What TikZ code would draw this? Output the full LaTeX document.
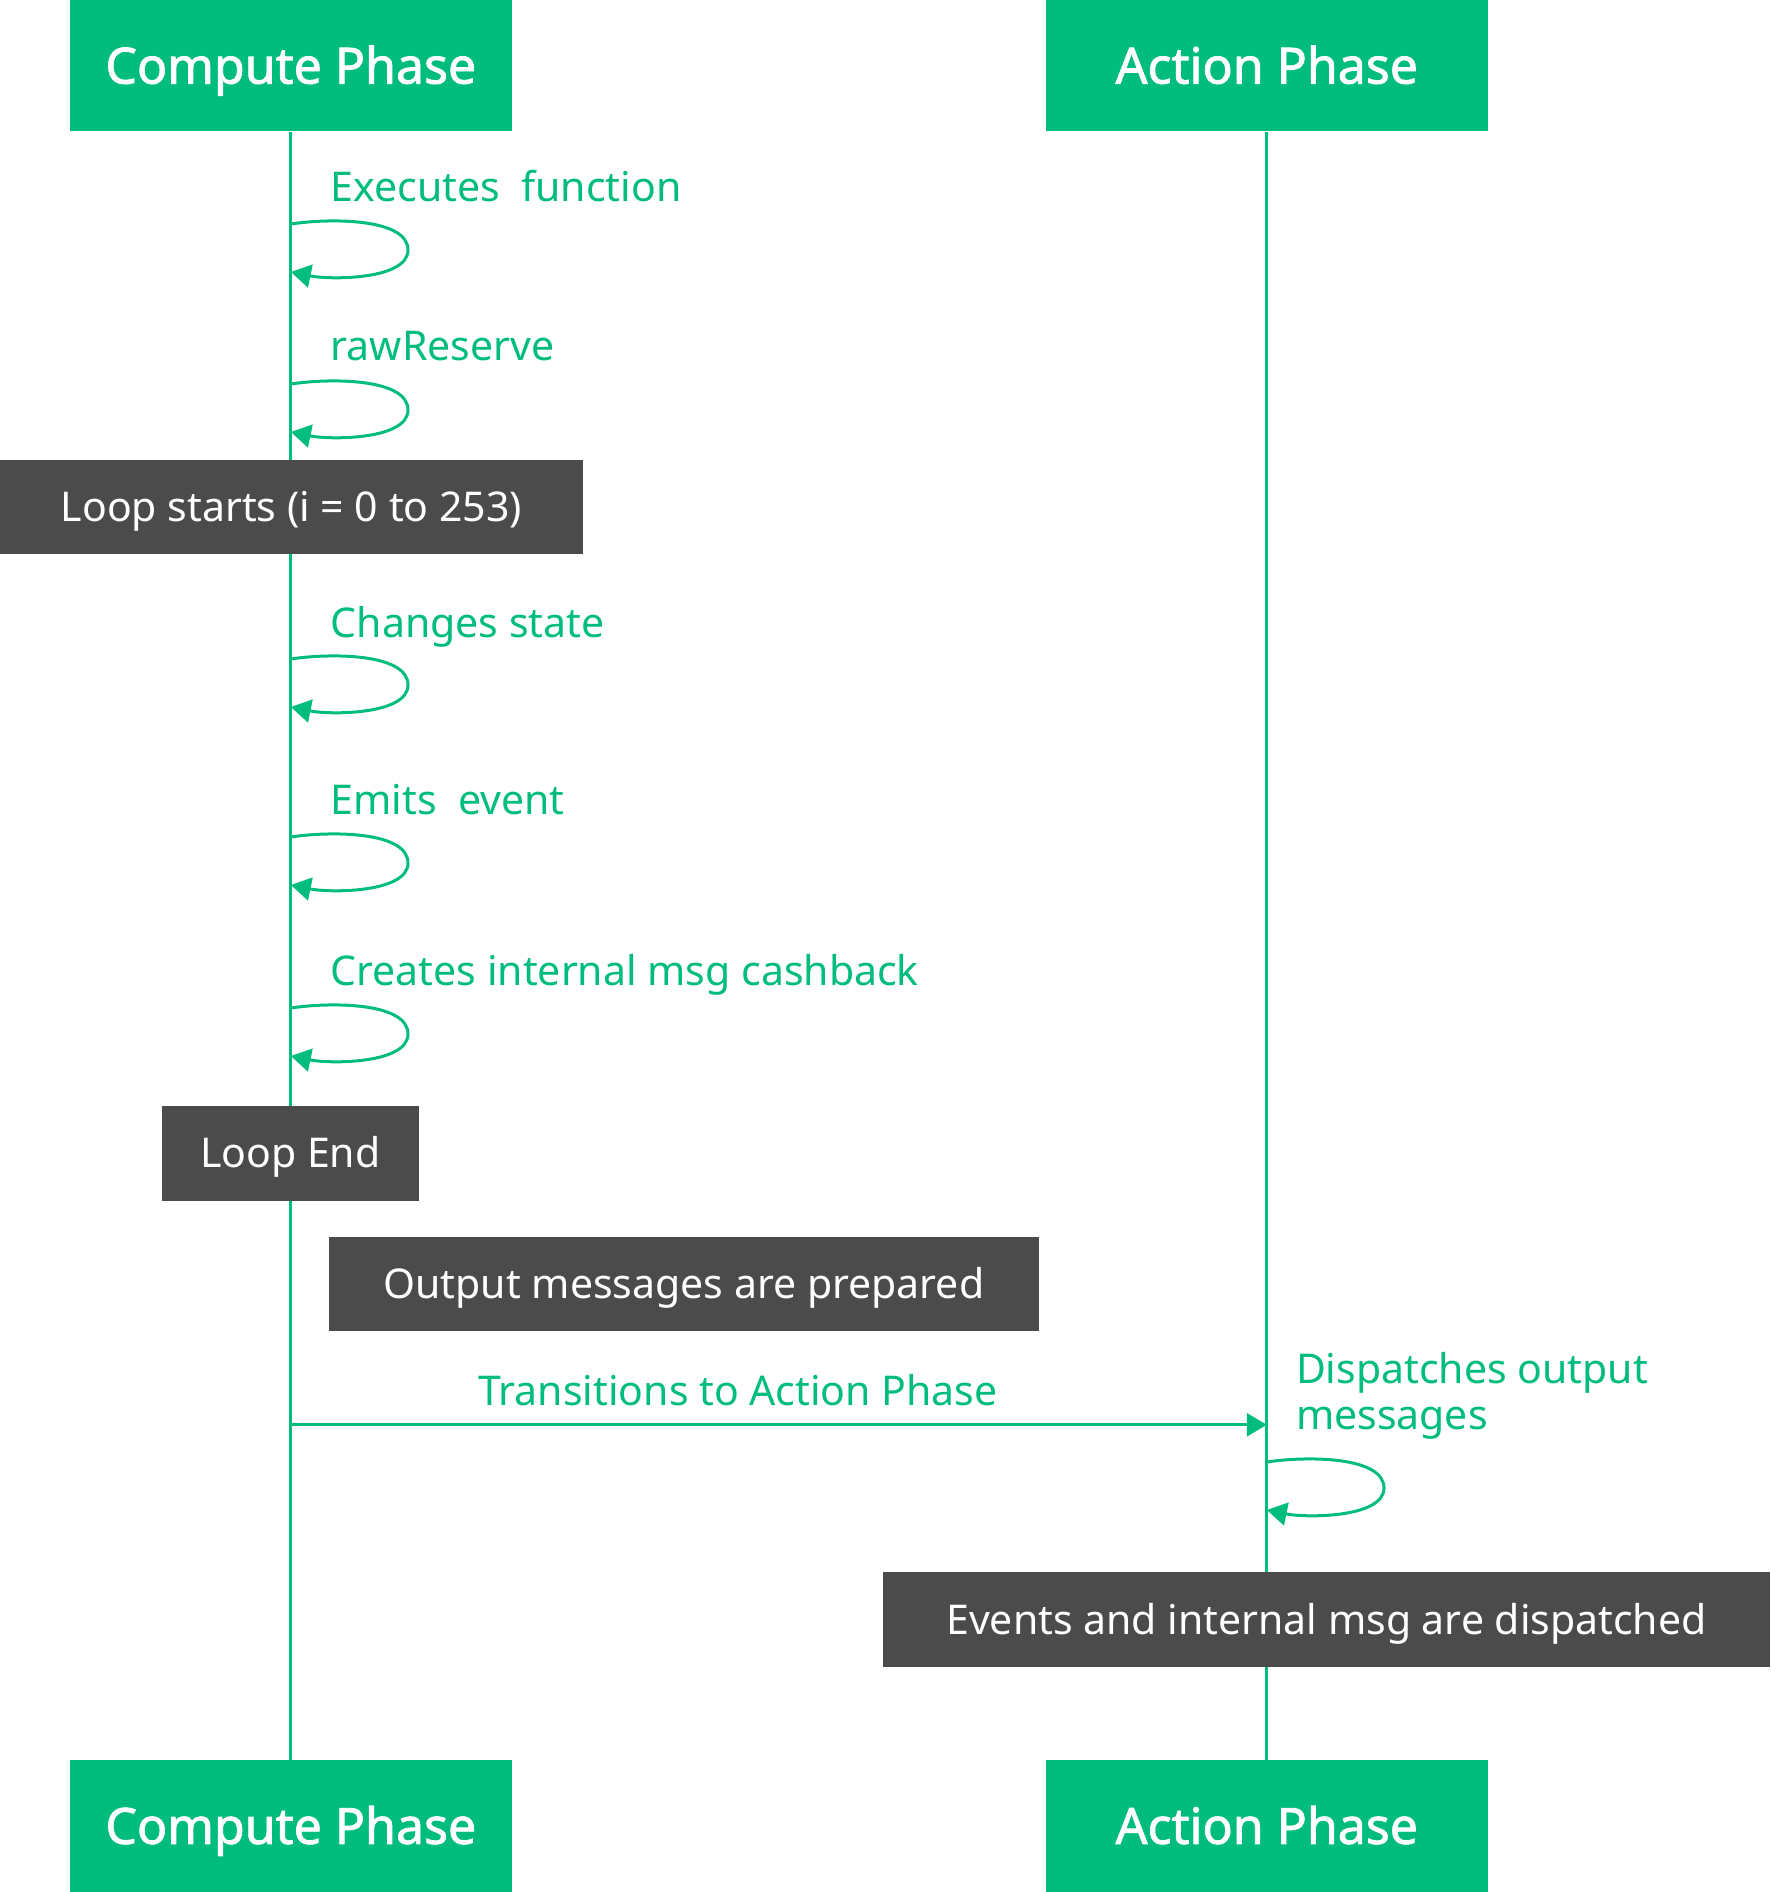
\documentclass[tikz,border=0pt]{standalone}
\usepackage{fontspec}
\setmainfont{Noto Sans}
\newfontfamily\hfont{Noto Sans}[FakeBold=1.6]
\usetikzlibrary{arrows.meta}
\definecolor{tgreen}{RGB}{0,189,126}
\definecolor{tgray}{RGB}{74,75,74}
\begin{document}
\begin{tikzpicture}[x=1pt,y=-1pt,
  header/.style={fill=tgreen,text=white,minimum width=441.6pt,minimum height=131.5pt,inner sep=0pt,text height=35.7pt,text depth=0pt,font=\hfont\fontsize{50}{60}\selectfont},
  notebox/.style={fill=tgray,text=white,inner sep=0pt,text height=29.3pt,text depth=0pt,font=\fontsize{41}{46}\selectfont},
  lbl/.style={text=tgreen,inner sep=0pt,anchor=base west,font=\fontsize{41}{46}\selectfont},
  life/.style={draw=tgreen,line width=3pt},
  msg/.style={draw=tgreen,line width=3pt,-{Triangle[length=20pt,width=23pt]}},
]
\useasboundingbox (0,0) rectangle (1770,1892);
% headers
\node[header] (ctop) at (290.8,65.75) {Compute Phase};
\node[header] (atop) at (1266.8,65.75) {Action Phase};
\node[header] (cbot) at (290.8,1826) {Compute Phase};
\node[header] (abot) at (1266.8,1826) {Action Phase};
% lifelines
\draw[life] (ctop.south) -- (cbot.north);
\draw[life] (atop.south) -- (abot.north);
% self loops on compute lifeline
\foreach \s/\n in {224/a,384/b,659/c,837/d,1008/e}{
  \coordinate (s\n) at (290.8,\s);
  \coordinate (e\n) at (290.8,\s+48);
  \draw[msg] (s\n) .. controls (330,\s-6) and (408,\s-6) .. (408,\s+26) .. controls (408,\s+56) and (330,\s+56) .. (e\n);
}
\node[lbl] (l1) at (330.6,201.5) {Executes\ \ function};
\node[lbl] (l2) at (330.6,360.7) {rawReserve};
\node[lbl] (l3) at (330.6,637) {Changes state};
\node[lbl] (l4) at (330.6,814.4) {Emits\ \ event};
\node[lbl] (l5) at (330.6,985.7) {Creates internal msg cashback};
% notes
\node[notebox,minimum width=582.7pt,minimum height=94pt] (n1) at (291.4,506.75) {Loop starts (i = 0 to 253)};
\node[notebox,minimum width=257pt,minimum height=94.5pt] (n2) at (290.2,1153.25) {Loop End};
\node[notebox,minimum width=709.8pt,minimum height=94.2pt] (n3) at (683.9,1283.7) {Output messages are prepared};
% transition
\coordinate (tc) at (290.8,1424.8);
\coordinate (ta) at (1266.8,1424.8);
\draw[msg] (tc) -- (ta);
\node[lbl,anchor=base] (l6) at (737.8,1405.6) {Transitions to Action Phase};
% action self loop
\coordinate (sf) at (1266.8,1462);
\coordinate (ef) at (1266.8,1510);
\draw[msg] (sf) .. controls (1306,1456) and (1384,1456) .. (1384,1488) .. controls (1384,1518) and (1306,1518) .. (ef);
\node[lbl,align=left] (l7) at (1295.8,1429.7) {Dispatches output\\messages};
\node[notebox,minimum width=887pt,minimum height=95.4pt] (n4) at (1326.5,1619.7) {Events and internal msg are dispatched};
\end{tikzpicture}
\end{document}
